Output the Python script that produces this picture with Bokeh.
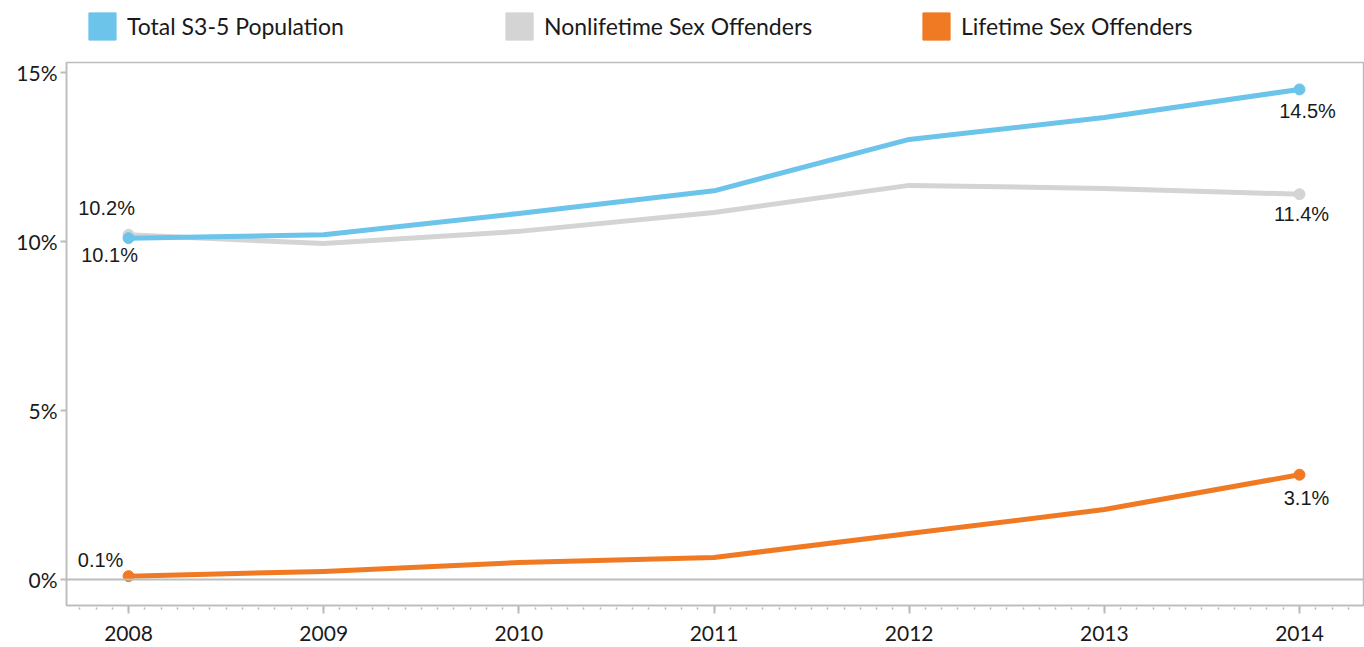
from bokeh.plotting import figure
from bokeh.layouts import column
from bokeh.models import (Range1d, SingleIntervalTicker, FixedTicker, Legend, LegendItem, Span)
from bokeh.core.properties import value
from bokeh.embed import file_html
from bokeh.resources import INLINE

# ---- data ----
years = [2008, 2009, 2010, 2011, 2012, 2013, 2014]
total = [10.1, 10.2, 10.83, 11.5, 13.02, 13.67, 14.5]
nonlifetime = [10.2, 9.94, 10.3, 10.86, 11.66, 11.57, 11.4]
lifetime = [0.1, 0.24, 0.5, 0.65, 1.36, 2.07, 3.1]
series_names = ["Total S3-5 Population", "Nonlifetime Sex Offenders", "Lifetime Sex Offenders"]
y_ticks = [0, 5, 10, 15]
y_tick_labels = ["0%", "5%", "10%", "15%"]

# ---- style ----
BLUE = "#6cc4ea"
GREY = "#d4d4d4"
ORANGE = "#f07a23"
AXIS = "#bcbcbc"
TXT = "#1a1a1a"
AX_FONT = "Lato"
LBL_FONT = "Liberation Sans"
COLORS = (BLUE, GREY, ORANGE)

# ---- legend strip ----
LEG_H = 55
lf = figure(width=1364, height=LEG_H, x_range=Range1d(0, 1), y_range=Range1d(0, 1),
            output_backend="svg", toolbar_location=None,
            min_border_left=0, min_border_right=0, min_border_top=0, min_border_bottom=0)
lf.axis.visible = False
lf.grid.visible = False
lf.outline_line_color = None
items = []
for name, col in zip(series_names, COLORS):
    r = lf.quad(left=[float("nan")], right=[float("nan")], top=[float("nan")],
                bottom=[float("nan")], fill_color=col, line_color=col)
    items.append(LegendItem(label=name, renderers=[r]))
legend = Legend(items=items, orientation="horizontal", location=(19, 12),
                glyph_width=34, glyph_height=34, label_standoff=8,
                label_width=300, label_height=34, spacing=75,
                padding=0, margin=0, border_line_alpha=0, background_fill_alpha=0,
                label_text_font=AX_FONT, label_text_font_size="23px",
                label_text_color=TXT, label_text_baseline="middle")
lf.add_layout(legend, "center")

# ---- main chart ----
p = figure(width=1364, height=647 - LEG_H,
           x_range=Range1d(2007.682, 2014.328),
           y_range=Range1d(-0.769, 15.296),
           output_backend="svg", toolbar_location=None,
           min_border_left=66, min_border_right=1,
           min_border_top=62 - LEG_H, min_border_bottom=42)

p.xgrid.visible = False
p.ygrid.visible = False
p.outline_line_color = AXIS
p.outline_line_width = 1.5

p.add_layout(Span(location=0, dimension="width", line_color=AXIS, line_width=2))

series = [(nonlifetime, GREY), (total, BLUE), (lifetime, ORANGE)]
for vals, col in series:
    p.line(years, vals, line_color=col, line_width=5, line_join="round", line_cap="round")
    p.scatter([years[0], years[-1]], [vals[0], vals[-1]], size=11,
              fill_color=col, line_color=col)

# endpoint labels
offsets = {
    "total": ((-19, 17), (8, 22)),
    "nonlifetime": ((-22, -27), (2, 20)),
    "lifetime": ((-28, -16), (7, 23)),
}
for key, vals in (("total", total), ("nonlifetime", nonlifetime), ("lifetime", lifetime)):
    for idx, off in zip((0, -1), offsets[key]):
        p.text([years[idx]], [vals[idx]], text=["%.1f%%" % vals[idx]],
               x_offset=off[0], y_offset=off[1],
               text_align="center", text_baseline="middle",
               text_font=value(LBL_FONT), text_font_size="20px", text_color=TXT)

# axes
xa = p.xaxis[0]
xa.ticker = SingleIntervalTicker(interval=1, num_minor_ticks=12)
xa.axis_line_color = AXIS
xa.axis_line_width = 1.5
xa.major_tick_line_color = AXIS
xa.major_tick_line_width = 2
xa.major_tick_in = 0
xa.major_tick_out = 8
xa.minor_tick_line_color = "#b5b5b5"
xa.minor_tick_line_width = 1.5
xa.minor_tick_in = -2
xa.minor_tick_out = 4
xa.major_label_text_font = AX_FONT
xa.major_label_text_font_size = "21px"
xa.major_label_text_color = TXT
xa.major_label_standoff = 12

ya = p.yaxis[0]
ya.ticker = FixedTicker(ticks=y_ticks, minor_ticks=[])
ya.major_label_overrides = {t: l for t, l in zip(y_ticks, y_tick_labels)}
ya.axis_line_color = AXIS
ya.axis_line_width = 1.5
ya.major_tick_line_color = AXIS
ya.major_tick_line_width = 2
ya.major_tick_in = 0
ya.major_tick_out = 6
ya.minor_tick_out = 0
ya.minor_tick_in = 0
ya.major_label_text_font = AX_FONT
ya.major_label_text_font_size = "21px"
ya.major_label_text_color = TXT
ya.major_label_standoff = 3

layout = column(lf, p, spacing=0)
open("out.html", "w").write(file_html(layout, INLINE))
